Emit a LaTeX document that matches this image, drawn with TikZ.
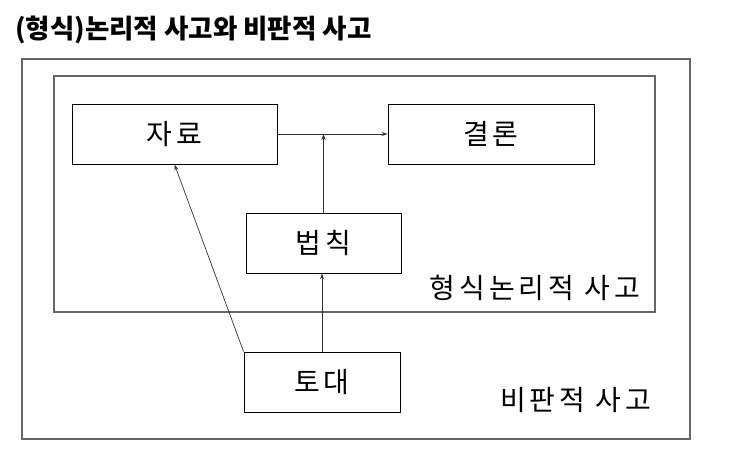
\documentclass[tikz,border=0pt]{standalone}
\usepackage{fontspec}
\setmainfont{Noto Sans CJK KR}
\newfontfamily\boxfont[LetterSpace=14]{Noto Sans CJK KR}
\usetikzlibrary{arrows.meta,positioning}

\begin{document}
\begin{tikzpicture}[%
    >={Stealth[length=6pt,width=4pt]},  % small filled tips
    x=1pt,
    y=-1pt,
    frame/.style={draw=black!60, line width=1.1pt},
    box/.style={draw, line width=0.9pt, font={\boxfont\fontsize{28}{32}\selectfont},
        minimum height=60pt, inner sep=0pt},
    lbl/.style={font={\boxfont\fontsize{28}{32}\selectfont}, inner sep=0pt},
    link/.style={draw=black!80, line width=0.7pt, ->}
    ]
    \useasboundingbox (0,0) rectangle (740,465);

    \node at (15,30) [font={\bfseries\fontsize{26.5}{30}\selectfont}, anchor=west, inner sep=0pt] (title)
        {(형식)논리적 사고와 비판적 사고};

    % the two thinking frames
    \draw [frame] (22,59) rectangle (690,439);
    \draw [frame] (54,76) rectangle (655,312);
    \node at (640,288) [lbl, anchor=east] (formal) {형식논리적 사고};
    \node at (651,400) [lbl, anchor=east] (critical) {비판적 사고};

    \node at (174.5,134) [box, minimum width=205pt] (data) {자료};
    \node at (491,134) [box, minimum width=206pt] (claim) {결론};
    \node at (323.5,243) [box, minimum width=155pt] (rule) {법칙};
    \node at (322,382) [box, minimum width=156pt] (base) {토대};

    \draw [link] (data) -- (claim);
    \draw [link] (rule.north) -- (rule.north |- data.east);
    \draw [link] (base.north) -- (base.north |- rule.south);
    \draw [link] (base.north west) -- (data.south);
\end{tikzpicture}
\end{document}
